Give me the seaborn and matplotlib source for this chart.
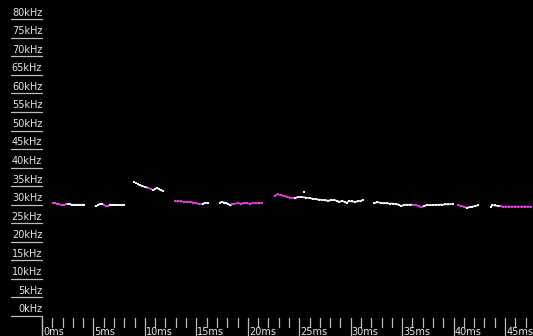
import matplotlib
matplotlib.use('Agg')
import matplotlib.pyplot as plt
import pandas as pd
import seaborn as sns

# axis ticks
freq_ticks = list(range(0, 85, 5))
freq_labels = [f'{f}kHz' for f in freq_ticks]
time_ticks = list(range(0, 48))
time_major = list(range(0, 50, 5))
time_labels = [f'{t}ms' for t in time_major]

# pulse traces: time (ms), frequency (kHz), colour class (w = white, m = magenta)
call1_t = [1.1, 1.3, 1.5, 1.7, 1.9, 2.1, 2.3, 2.5, 2.7, 2.9, 3.1, 3.3, 3.5, 3.7, 3.9, 4.1]
call1_f = [30.4, 30.4, 30.3, 30.1, 29.9, 29.9, 30.1, 30.2, 30.1, 30.0, 30.0, 30.0, 30.0, 30.0, 30.0, 30.0]
call1_c = ['m'] * 8 + ['w'] * 8

call2_t = [5.2, 5.4, 5.6, 5.8, 6.0, 6.2, 6.4, 6.6, 6.8, 7.0, 7.2, 7.4, 7.6, 7.8, 8.0]
call2_f = [29.6, 29.8, 30.2, 30.3, 30.0, 29.6, 29.7, 30.0, 30.0, 30.0, 29.95, 29.95, 29.95, 29.95, 29.95]
call2_c = ['w'] * 5 + ['m'] * 3 + ['w'] * 7

call3_t = [9.3, 9.5, 9.7, 10.0, 10.3, 10.55, 10.8, 10.95, 11.15, 11.35, 11.55, 11.8]
call3_f = [35.5, 35.3, 35.1, 34.8, 34.6, 34.3, 33.9, 34.2, 34.6, 34.2, 33.9, 33.7]
call3_c = ['w'] * 5 + ['m'] * 2 + ['w'] * 5

call4_t = [12.9, 13.2, 13.5, 13.8, 14.1, 14.4, 14.7, 15.0, 15.3, 15.6, 15.8, 16.1]
call4_f = [31.0, 30.9, 30.9, 30.8, 30.8, 30.7, 30.6, 30.4, 30.2, 30.2, 30.5, 30.5]
call4_c = ['m'] * 10 + ['w'] * 2

call5_t = [17.3, 17.5, 17.7, 17.9, 18.1, 18.3, 18.5, 18.7, 19.0, 19.3, 19.6, 19.9, 20.2,
           20.5, 20.8, 21.1, 21.4]
call5_f = [30.6, 30.7, 30.6, 30.5, 30.2, 29.8, 30.2, 30.3, 30.4, 30.3, 30.4, 30.4, 30.3,
           30.4, 30.4, 30.4, 30.5]
call5_c = ['w'] * 7 + ['m'] * 10

call6_t = [22.6, 22.9, 23.2, 23.5, 23.8, 24.1, 24.4, 24.6, 24.85, 25.2, 25.7, 26.0, 26.3,
           26.6, 26.9, 27.2, 27.5, 27.8, 28.1, 28.4, 28.7, 28.9, 29.2, 29.4, 29.6, 29.8,
           30.1, 30.4, 30.7, 31.0, 31.2]
call6_f = [32.4, 32.8, 32.6, 32.4, 32.2, 31.9, 31.8, 31.7, 32.1, 32.1, 31.9, 31.8, 31.6,
           31.5, 31.4, 31.3, 31.2, 31.1, 31.2, 31.3, 31.0, 30.8, 31.0, 30.8, 30.4, 31.0,
           30.9, 30.8, 30.9, 31.1, 31.3]
call6_c = ['m'] * 8 + ['w'] * 23

call7_t = [32.3, 32.6, 32.9, 33.2, 33.5, 33.8, 34.1, 34.4, 34.7, 34.9, 35.2, 35.5, 35.8,
           36.05, 36.3, 36.6, 36.9, 37.1, 37.4, 37.7, 38.0, 38.3, 38.6, 38.9, 39.2, 39.5, 39.9]
call7_f = [30.4, 30.7, 30.5, 30.4, 30.4, 30.3, 30.3, 30.2, 30.0, 29.6, 30.0, 30.0, 30.0,
           30.0, 29.9, 29.6, 29.3, 29.6, 29.9, 29.9, 29.9, 30.0, 30.0, 30.0, 30.1, 30.1, 30.2]
call7_c = ['w'] * 14 + ['m'] * 4 + ['w'] * 9

call8_t = [40.4, 40.7, 41.0, 41.3, 41.55, 41.8, 42.1, 42.4]
call8_f = [29.9, 29.7, 29.5, 29.2, 29.3, 29.5, 29.6, 29.9]
call8_c = ['m'] * 4 + ['w'] * 4

call9_t = [43.65, 43.75, 44.0, 44.3, 44.6, 44.8, 45.1, 45.4, 45.7, 46.0, 46.3, 46.6,
           46.9, 47.2, 47.5]
call9_f = [29.4, 29.9, 29.8, 29.7, 29.6, 29.5, 29.5, 29.5, 29.5, 29.5, 29.5, 29.5,
           29.5, 29.5, 29.5]
call9_c = ['w'] * 5 + ['m'] * 10

# loose single points
stray_t = [8.95, 9.1, 25.5]
stray_f = [36.1, 35.8, 33.5]

calls = [(call1_t, call1_f, call1_c), (call2_t, call2_f, call2_c),
         (call3_t, call3_f, call3_c), (call4_t, call4_f, call4_c),
         (call5_t, call5_f, call5_c), (call6_t, call6_f, call6_c),
         (call7_t, call7_f, call7_c), (call8_t, call8_f, call8_c),
         (call9_t, call9_f, call9_c)]

colours = {'w': '#f2f2f2', 'm': '#e03ce0'}
text_col = '#e6e6e6'
rule_col = '#bdbdbd'

# split each call into runs of one colour, joined to the previous point
rows = []
run_id = 0
for t_list, f_list, c_list in calls:
    for i, (t, f, c) in enumerate(zip(t_list, f_list, c_list)):
        if i == 0 or c != c_list[i - 1]:
            run_id += 1
            if i > 0:
                rows.append((run_id, t_list[i - 1], f_list[i - 1], c))
        rows.append((run_id, t, f, c))
df = pd.DataFrame(rows, columns=['run', 'time', 'freq', 'col'])

sns.set_style('dark')
plt.rcParams['font.family'] = ['Liberation Sans Narrow', 'DejaVu Sans']

# pixel scale of the original display
px_ms = 10.29
px_khz = 3.709

fig = plt.figure(figsize=(5.33, 3.36), dpi=100, facecolor='black')
ax = fig.add_axes([0, 0, 1, 1])
ax.set_facecolor('black')

for run, sub in df.groupby('run'):
    sns.lineplot(data=sub, x='time', y='freq', color=colours[sub['col'].iloc[0]],
                 sort=False, estimator=None, lw=1.2, marker='s', markersize=1.8,
                 markeredgewidth=0, ax=ax)
sns.scatterplot(x=stray_t, y=stray_f, color=colours['w'], marker='s', s=3,
                linewidth=0, ax=ax)

ymin = -20 / px_khz
# frequency labels with rules underneath
for f, lab in zip(freq_ticks, freq_labels):
    ax.plot([-31 / px_ms, 0], [f, f], color=rule_col, lw=0.9)
    ax.text(0.02, f + 6.6 / px_khz, lab, ha='right', va='center',
            color=text_col, fontsize=7)
ax.plot([0, 0], [0, ymin], color=rule_col, lw=0.9)

# time ticks below the plot
for t in time_ticks:
    bottom = ymin if t in time_major else -11 / px_khz
    ax.plot([t, t], [-2 / px_khz, bottom], color=rule_col, lw=0.9)
for t, lab in zip(time_major, time_labels):
    ax.text(t + 0.1, -15.8 / px_khz, lab, ha='left', va='center',
            color=text_col, fontsize=7)

ax.set_xlim(-42 / px_ms, 491 / px_ms)
ax.set_ylim(ymin, 316 / px_khz)
ax.set_xlabel('')
ax.set_ylabel('')
ax.set_xticks([])
ax.set_yticks([])
for s in ax.spines.values():
    s.set_visible(False)
if ax.get_legend():
    ax.get_legend().remove()

plt.savefig('out.png', dpi=100, facecolor='black')
plt.close()
